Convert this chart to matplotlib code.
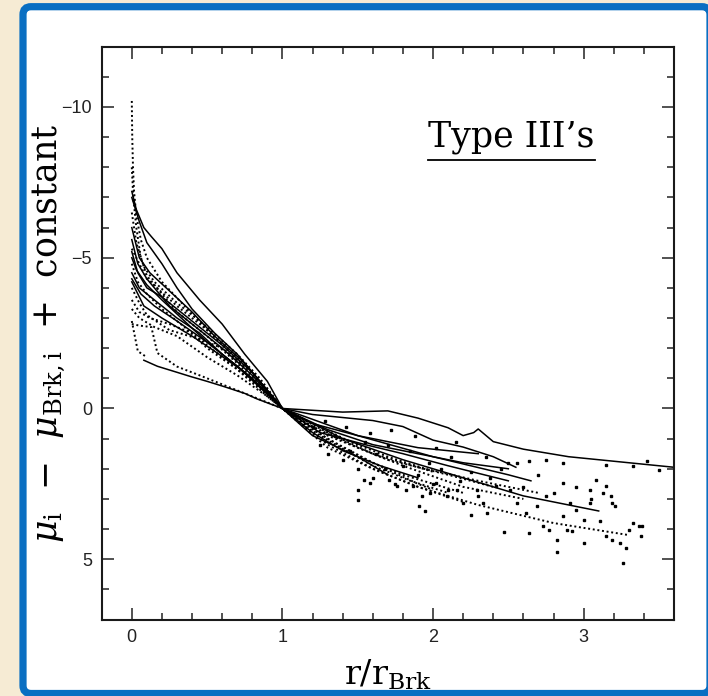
import numpy as np
import matplotlib
matplotlib.use('Agg')
import matplotlib.pyplot as plt
from matplotlib.patches import FancyBboxPatch
from matplotlib.lines import Line2D
from matplotlib.transforms import IdentityTransform
from matplotlib.ticker import MultipleLocator

plt.rcParams['mathtext.fontset'] = 'dejavuserif'

# surface brightness profiles, r / r_Brk versus mu_i - mu_Brk,i (mag)
# solid-looking profiles
r_p1 = [0.0, 0.03, 0.08, 0.13, 0.2, 0.3, 0.45, 0.6, 0.75, 0.9, 1.0, 1.2, 1.4, 1.7, 1.9, 2.1, 2.2, 2.27, 2.3, 2.4, 2.6, 2.9, 3.2, 3.6]
mu_p1 = [-7.2, -6.6, -6.0, -5.7, -5.3, -4.5, -3.6, -2.8, -1.8, -0.9, 0.0, 0.06, 0.12, 0.08, 0.32, 0.64, 0.9, 0.8, 0.68, 1.1, 1.35, 1.6, 1.75, 1.95]
r_p2 = [0.0, 0.05, 0.1, 0.2, 0.3, 0.4, 0.55, 0.7, 0.85, 1.0, 1.2, 1.4, 1.6, 1.8, 2.0, 2.2, 2.4, 2.55]
mu_p2 = [-7.0, -6.2, -5.5, -4.8, -4.0, -3.3, -2.5, -1.8, -0.9, 0.0, 0.2, 0.3, 0.4, 0.6, 1.05, 1.28, 1.6, 1.95]
r_p3 = [0.0, 0.03, 0.1, 0.2, 0.35, 0.5, 0.7, 0.85, 1.0, 1.25, 1.55, 1.8, 2.1, 2.5]
mu_p3 = [-5.0, -4.6, -4.1, -3.6, -2.9, -2.2, -1.4, -0.7, 0.0, 0.8, 1.2, 1.5, 1.9, 2.4]
r_p4 = [0.0, 0.05, 0.15, 0.3, 0.45, 0.6, 0.8, 1.0, 1.2, 1.5, 1.9, 2.3]
mu_p4 = [-4.5, -4.0, -3.6, -3.0, -2.5, -1.8, -1.0, 0.0, 0.5, 0.9, 1.3, 1.5]
r_p5 = [0.0, 0.08, 0.2, 0.4, 0.55, 0.75, 0.9, 1.0, 1.4, 1.8, 2.2, 2.6, 3.1]
mu_p5 = [-4.2, -3.4, -3.0, -2.4, -1.9, -1.2, -0.5, 0.0, 1.0, 1.7, 2.3, 2.9, 3.4]
r_p6 = [0.0, 0.04, 0.1, 0.25, 0.4, 0.6, 0.8, 1.0, 1.5, 2.0, 2.5, 2.65]
mu_p6 = [-5.6, -4.8, -4.3, -3.4, -2.8, -2.0, -1.1, 0.0, 0.9, 1.6, 2.2, 2.4]
r_p7 = [0.0, 0.05, 0.12, 0.25, 0.4, 0.55, 0.75, 1.0, 1.2, 1.5, 1.7]
mu_p7 = [-6.0, -5.0, -4.5, -3.9, -3.2, -2.4, -1.5, 0.0, 0.9, 1.6, 2.2]
r_p8 = [0.0, 0.06, 0.15, 0.3, 0.5, 0.7, 0.9, 1.0, 1.3, 1.6, 1.9, 2.2, 2.5]
mu_p8 = [-4.3, -3.8, -3.4, -2.9, -2.2, -1.4, -0.5, 0.0, 0.7, 1.2, 1.5, 1.8, 2.0]
r_p9 = [0.0, 0.04, 0.1, 0.2, 0.3, 0.45, 0.6, 0.8, 1.0, 1.2, 1.4, 1.65, 1.9]
mu_p9 = [-5.2, -4.5, -4.0, -3.7, -3.3, -2.7, -2.1, -1.2, 0.0, 0.8, 1.4, 1.9, 2.3]
r_low1 = [0.08, 0.17, 0.3, 0.39, 0.5, 0.61, 0.75, 0.83, 0.92, 1.0]
mu_low1 = [-1.6, -1.4, -1.2, -1.06, -0.9, -0.73, -0.5, -0.32, -0.15, 0.0]

# dotted profiles
r_d1 = [0.0, 0.003, 0.008, 0.015, 0.03, 0.06, 0.1, 0.2, 0.35, 0.5, 0.7, 0.85, 1.0, 1.3, 1.6, 1.9, 2.3, 2.8, 3.3]
mu_d1 = [-10.2, -9.0, -8.0, -7.2, -6.4, -5.6, -5.0, -4.2, -3.4, -2.6, -1.6, -0.8, 0.0, 1.3, 2.0, 2.6, 3.2, 3.8, 4.2]
r_d2 = [0.0, 0.01, 0.03, 0.06, 0.1, 0.2, 0.3, 0.5, 0.7, 1.0, 1.3, 1.6, 1.9, 2.0]
mu_d2 = [-8.0, -7.0, -6.0, -5.0, -4.4, -3.8, -3.2, -2.4, -1.5, 0.0, 1.0, 1.8, 2.5, 2.7]
r_d3 = [0.0, 0.05, 0.1, 0.25, 0.45, 0.6, 0.8, 1.0, 1.2, 1.5, 1.8, 2.2, 2.6]
mu_d3 = [-4.0, -3.5, -3.1, -2.6, -2.3, -2.0, -1.2, 0.0, 0.6, 1.3, 1.9, 2.6, 3.0]
r_d4 = [0.0, 0.05, 0.15, 0.3, 0.5, 0.7, 0.9, 1.0, 1.3, 1.7, 2.1, 2.4]
mu_d4 = [-3.3, -3.0, -2.7, -2.4, -1.7, -1.1, -0.4, 0.0, 0.9, 1.7, 2.2, 2.6]
r_d5 = [0.0, 0.05, 0.13, 0.17, 0.3, 0.45, 0.6, 0.8, 1.0, 1.3, 1.6, 2.0]
mu_d5 = [-2.8, -2.75, -2.7, -1.84, -1.39, -1.1, -0.8, -0.4, 0.0, 0.8, 1.5, 2.1]
r_d6 = [0.0, 0.02, 0.04, 0.1]
mu_d6 = [-2.9, -2.4, -1.9, -1.7]
r_d7 = [0.0, 0.1, 0.3, 0.5, 0.7, 0.9, 1.0, 1.3, 1.6, 1.9, 2.2]
mu_d7 = [-5.3, -4.3, -3.4, -2.6, -1.7, -0.6, 0.0, 1.2, 2.0, 2.6, 3.1]
r_d8 = [0.0, 0.04, 0.1, 0.2, 0.35, 0.5, 0.7, 0.9, 1.0, 1.2, 1.4, 1.6, 1.8, 2.0, 2.2]
mu_d8 = [-4.8, -4.2, -3.8, -3.3, -2.7, -2.0, -1.3, -0.4, 0.0, 0.7, 1.3, 1.8, 2.2, 2.5, 2.8]
r_d9 = [0.0, 0.05, 0.12, 0.25, 0.4, 0.6, 0.8, 1.0, 1.2, 1.45, 1.7, 1.95, 2.3, 2.7]
mu_d9 = [-3.6, -3.2, -3.0, -2.8, -2.5, -1.7, -0.9, 0.0, 0.5, 1.1, 1.6, 2.0, 2.4, 2.8]
r_d10 = [0.0, 0.03, 0.08, 0.15, 0.3, 0.5, 0.7, 0.85, 1.0, 1.15, 1.35, 1.6, 1.85, 2.1]
mu_d10 = [-6.5, -5.5, -4.7, -4.2, -3.5, -2.7, -1.8, -1.0, 0.0, 0.6, 1.2, 1.9, 2.4, 2.8]

# outer scattered points: sparse tail
r_pts = [1.50, 1.50, 1.54, 1.58, 1.91, 1.95, 2.20, 2.25, 2.36, 2.47, 2.64, 2.82, 2.82, 2.89, 2.92,
         3.00, 3.15, 3.19, 3.24, 3.26, 3.28, 3.30, 3.33, 3.37, 3.39, 3.38, 3.08, 3.15, 3.19, 3.21,
         3.04, 2.86, 2.75, 2.69, 2.62, 2.56, 2.51, 2.42, 2.33, 2.29, 2.73, 2.77, 3.00, 3.11, 2.91,
         2.95, 2.86, 3.13, 3.04, 3.18, 2.16, 2.09, 1.98, 2.02, 1.87, 1.76, 1.71, 2.56, 2.64, 2.75,
         2.86, 3.15, 3.33, 3.42, 3.50]
mu_pts = [2.69, 3.05, 2.36, 2.47, 3.25, 3.41, 3.13, 3.52, 3.47, 4.10, 4.12, 4.77, 4.37, 4.02, 4.07,
          4.46, 4.24, 4.35, 4.46, 5.12, 4.62, 4.02, 3.79, 3.90, 3.90, 4.24, 2.36, 2.58, 3.13, 3.25,
          2.69, 2.47, 2.91, 3.25, 3.47, 3.13, 2.69, 2.58, 3.13, 2.69, 3.90, 4.02, 3.69, 3.74, 3.13,
          3.36, 3.58, 2.80, 3.13, 2.91, 2.69, 2.91, 2.80, 2.47, 2.58, 2.58, 2.36, 1.81, 1.75, 1.70,
          1.81, 1.86, 1.92, 1.75, 2.03]
# outer scattered points: dense band just beyond the break
r_band = [1.25, 1.30, 1.35, 1.40, 1.45, 1.50, 1.55, 1.60, 1.62, 1.68, 1.70, 1.75, 1.80, 1.82,
          1.85, 1.90, 1.93, 1.97, 2.00, 2.05, 2.10, 2.12, 2.18, 2.25, 2.30, 2.38, 2.45, 1.20,
          1.28, 1.42, 1.58, 1.72, 1.88, 2.02, 2.15, 2.35, 2.50, 2.60, 2.70, 2.80, 2.95, 3.05]
mu_band = [1.2, 1.5, 0.9, 1.7, 1.4, 2.0, 1.1, 2.3, 1.5, 2.0, 1.2, 2.5, 1.9, 2.7,
           1.4, 2.2, 2.9, 1.8, 2.5, 2.0, 2.7, 1.6, 2.4, 2.1, 2.9, 2.3, 2.0, 0.6,
           0.4, 0.6, 0.8, 0.7, 0.9, 1.3, 1.1, 1.6, 1.8, 2.6, 2.2, 2.8, 2.6, 3.0]

solid = [(r_p1, mu_p1), (r_p2, mu_p2), (r_p3, mu_p3), (r_p4, mu_p4), (r_p5, mu_p5),
         (r_p6, mu_p6), (r_p7, mu_p7), (r_p8, mu_p8), (r_p9, mu_p9), (r_low1, mu_low1)]
dotted = [(r_d1, mu_d1), (r_d2, mu_d2), (r_d3, mu_d3), (r_d4, mu_d4), (r_d5, mu_d5),
          (r_d6, mu_d6), (r_d7, mu_d7), (r_d8, mu_d8), (r_d9, mu_d9), (r_d10, mu_d10)]

fig = plt.figure(figsize=(7.08, 6.96), dpi=100, facecolor='#F6EBD4')

# white panel with blue rounded border, kept behind the axes
panel = FancyBboxPatch((0.23, 0.025), 6.87, 6.868,
                       boxstyle='round,pad=0,rounding_size=0.08',
                       transform=fig.dpi_scale_trans,
                       facecolor='white', edgecolor='#0A6FC2', linewidth=5.2, zorder=-5)
fig.add_artist(panel)

ax = fig.add_axes([0.1436, 0.1099, 0.8084, 0.823])
ax.set_facecolor('white')

for r, mu in solid:
    ax.plot(r, mu, color='black', lw=1.1)
for r, mu in dotted:
    ax.plot(r, mu, color='black', lw=1.4, linestyle=(0, (1, 1.4)))
ax.plot(r_pts, mu_pts, linestyle='none', marker='s', markersize=1.5, color='black')
ax.plot(r_band, mu_band, linestyle='none', marker='s', markersize=1.5, color='black')

ax.set_xlim(-0.2, 3.6)
ax.set_ylim(7, -12)

ax.xaxis.set_major_locator(MultipleLocator(1))
ax.xaxis.set_minor_locator(MultipleLocator(0.2))
ax.yaxis.set_major_locator(MultipleLocator(5))
ax.yaxis.set_minor_locator(MultipleLocator(1))
ax.tick_params(which='both', direction='in', top=True, right=True, width=1.1, color='#222222')
ax.tick_params(which='major', length=8.6, pad=7, labelsize=13, labelcolor='#222222')
ax.tick_params(which='minor', length=5)
for lab in ax.get_xticklabels() + ax.get_yticklabels():
    lab.set_family('Liberation Sans')
for s in ax.spines.values():
    s.set_linewidth(1.5)
    s.set_color('#1a1a1a')

ax.set_xlabel(r'r/r$_{\rm Brk}$', family='DejaVu Serif', fontsize=24, labelpad=8)
ax.set_ylabel(r'$\mu_{\rm i}$  $-$  $\mu_{\rm Brk,i}$  +  constant', family='DejaVu Serif',
              fontsize=25)
ax.yaxis.set_label_coords(-0.058, 0.5)

title = ax.text(2.52, -8.7, "Type III\u2019s", family='DejaVu Serif', fontsize=25,
                ha='center', va='baseline')

# underline below the label
fig.canvas.draw()
bb = title.get_window_extent()
fig.add_artist(Line2D([bb.x0, bb.x1], [bb.y0 - 6, bb.y0 - 6], color='black', lw=1.3,
                      transform=IdentityTransform()))

fig.savefig('out.png', dpi=100, facecolor=fig.get_facecolor())
